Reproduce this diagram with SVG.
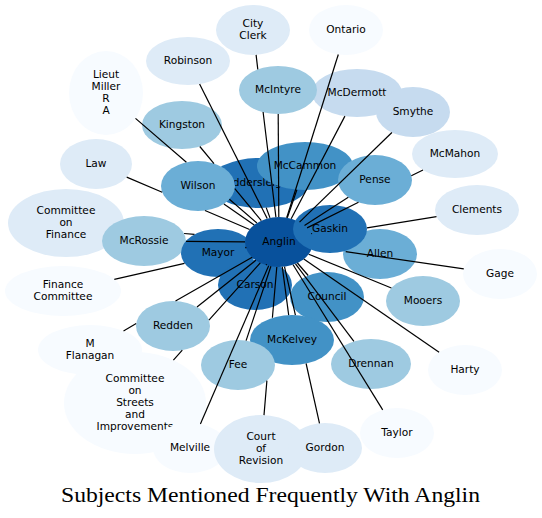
<svg xmlns="http://www.w3.org/2000/svg" width="542" height="518" viewBox="0 0 542 518">
<style>
.n text{font-family:"DejaVu Sans","Noto Sans",sans-serif;font-size:10.6px;text-anchor:middle;fill:#000}
.c1{fill:#f7fbff}.c2{fill:#deebf7}.c3{fill:#c6dbef}.c4{fill:#9ecae1}.c5{fill:#6baed6}.c6{fill:#4292c6}.c7{fill:#2171b5}.c8{fill:#08519c}
.e path{stroke:#000;stroke-width:1.2;fill:none}
.title{font-family:"Liberation Serif","DejaVu Serif",serif;font-size:20px;text-anchor:middle;fill:#000}
</style>
<rect width="542" height="518" fill="#fff"/>
<g class="n">
<g id="n-committee-on-finance"><ellipse class="c2" cx="66" cy="223" rx="58" ry="34"/><text x="66" y="213.8">Committee</text><text x="66" y="226">on</text><text x="66" y="238.2">Finance</text></g>
<g id="n-mcrossie"><ellipse class="c4" cx="144" cy="241" rx="42" ry="25"/><text x="144" y="244">McRossie</text></g>
<g id="n-mayor"><ellipse class="c7" cx="218" cy="253" rx="37" ry="24"/><text x="218" y="256">Mayor</text></g>
<g id="n-carson"><ellipse class="c7" cx="255" cy="285" rx="37" ry="25"/><text x="255" y="288">Carson</text></g>
<g id="n-anglin"><ellipse class="c8" cx="279" cy="242" rx="34" ry="25"/><text x="279" y="245">Anglin</text></g>
<g id="n-allen"><ellipse class="c5" cx="380" cy="254" rx="37" ry="25"/><text x="380" y="257">Allen</text></g>
<g id="n-gaskin"><ellipse class="c7" cx="330" cy="229" rx="37" ry="24"/><text x="330" y="232">Gaskin</text></g>
<g id="n-iddersleigh"><ellipse class="c7" cx="259" cy="183" rx="50" ry="25"/><text x="259" y="186">Iddersleigh</text></g>
<g id="n-wilson"><ellipse class="c5" cx="198" cy="186" rx="37" ry="25"/><text x="198" y="189">Wilson</text></g>
<g id="n-mccammon"><ellipse class="c6" cx="305" cy="166" rx="48" ry="24"/><text x="305" y="169">McCammon</text></g>
<g id="n-pense"><ellipse class="c5" cx="375" cy="180" rx="37" ry="25"/><text x="375" y="183">Pense</text></g>
<g id="n-mcdermott"><ellipse class="c3" cx="357" cy="93" rx="45" ry="24"/><text x="357" y="96">McDermott</text></g>
<g id="n-mcintyre"><ellipse class="c4" cx="278" cy="90" rx="39" ry="24"/><text x="278" y="93">McIntyre</text></g>
<g id="n-smythe"><ellipse class="c3" cx="413" cy="112" rx="37" ry="25"/><text x="413" y="115">Smythe</text></g>
<g id="n-city-clerk"><ellipse class="c2" cx="253" cy="30" rx="37" ry="25"/><text x="253" y="26.9">City</text><text x="253" y="39.1">Clerk</text></g>
<g id="n-ontario"><ellipse class="c1" cx="346" cy="30" rx="37" ry="25"/><text x="346" y="33">Ontario</text></g>
<g id="n-robinson"><ellipse class="c2" cx="188" cy="61" rx="42" ry="24"/><text x="188" y="64">Robinson</text></g>
<g id="n-lieut-miller-r-a"><ellipse class="c1" cx="106" cy="93" rx="37" ry="42"/><text x="106" y="77.7">Lieut</text><text x="106" y="89.9">Miller</text><text x="106" y="102.1">R</text><text x="106" y="114.3">A</text></g>
<g id="n-kingston"><ellipse class="c4" cx="182" cy="125" rx="40" ry="24"/><text x="182" y="128">Kingston</text></g>
<g id="n-mcmahon"><ellipse class="c2" cx="455" cy="154" rx="43" ry="24"/><text x="455" y="157">McMahon</text></g>
<g id="n-law"><ellipse class="c2" cx="96" cy="164" rx="36" ry="25"/><text x="96" y="167">Law</text></g>
<g id="n-clements"><ellipse class="c2" cx="477" cy="210" rx="42" ry="25"/><text x="477" y="213">Clements</text></g>
<g id="n-gage"><ellipse class="c1" cx="500" cy="274" rx="37" ry="25"/><text x="500" y="277">Gage</text></g>
<g id="n-finance-committee"><ellipse class="c1" cx="63" cy="291" rx="58" ry="25"/><text x="63" y="287.9">Finance</text><text x="63" y="300.1">Committee</text></g>
<g id="n-council"><ellipse class="c6" cx="327" cy="297" rx="37" ry="25"/><text x="327" y="300">Council</text></g>
<g id="n-mooers"><ellipse class="c4" cx="423" cy="301" rx="37" ry="25"/><text x="423" y="304">Mooers</text></g>
<g id="n-redden"><ellipse class="c4" cx="173" cy="326" rx="37" ry="25"/><text x="173" y="329">Redden</text></g>
<g id="n-mckelvey"><ellipse class="c6" cx="292" cy="340" rx="42" ry="25"/><text x="292" y="343">McKelvey</text></g>
<g id="n-fee"><ellipse class="c4" cx="238" cy="365" rx="37" ry="25"/><text x="238" y="368">Fee</text></g>
<g id="n-drennan"><ellipse class="c4" cx="371" cy="364" rx="40" ry="25"/><text x="371" y="367">Drennan</text></g>
<g id="n-harty"><ellipse class="c1" cx="465" cy="370" rx="37" ry="25"/><text x="465" y="373">Harty</text></g>
<g id="n-committee-on-streets"><ellipse class="c1" cx="135" cy="403" rx="71" ry="51"/><text x="135" y="381.6">Committee</text><text x="135" y="393.8">on</text><text x="135" y="406">Streets</text><text x="135" y="418.2">and</text><text x="135" y="430.4">Improvements</text></g>
<g id="n-m-flanagan"><ellipse class="c1" cx="90" cy="350" rx="52" ry="25"/><text x="90" y="346.9">M</text><text x="90" y="359.1">Flanagan</text></g>
<g id="n-melville"><ellipse class="c1" cx="190" cy="448" rx="37" ry="25"/><text x="190" y="451">Melville</text></g>
<g id="n-taylor"><ellipse class="c1" cx="397" cy="433" rx="37" ry="25"/><text x="397" y="436">Taylor</text></g>
<g id="n-court-of-revision"><ellipse class="c2" cx="261" cy="449" rx="47" ry="34"/><text x="261" y="439.8">Court</text><text x="261" y="452">of</text><text x="261" y="464.2">Revision</text></g>
<g id="n-gordon"><ellipse class="c2" cx="325" cy="448" rx="37" ry="25"/><text x="325" y="451">Gordon</text></g>
</g>
<g id="connectors" class="e">
<path d="M256.1,54.9L257.8,69.4M263.1,112L275.9,217.1"/>
<path d="M338.3,54.5L286.7,217.7"/>
<path d="M199.6,84.1L267.2,218.6"/>
<path d="M135.5,118.4L186.4,162.3M229.4,199.2L256.9,223"/>
<path d="M278.2,114L278.8,217"/>
<path d="M344.9,116.1L291.2,218.7"/>
<path d="M391.9,132.5L299.5,222.1"/>
<path d="M199.8,146.5L214,163.6M234.8,188.6L261.3,220.7"/>
<path d="M423,170L411.3,175.8M358.5,202.3L307.1,227.9"/>
<path d="M126.7,177.1L162.2,192.2M205,210.5L249.6,229.5"/>
<path d="M223.9,203.9L254.2,224.9"/>
<path d="M266.2,207.6L270,217.9"/>
<path d="M296.9,189.7L287.3,217.8"/>
<path d="M348.3,197.3L304.5,225.5"/>
<path d="M436.5,216.6L367,227.8"/>
<path d="M184.1,233.5L194.5,234.4"/>
<path d="M186,241.3L245,241.8"/>
<path d="M245.3,247.4L246.3,247.9"/>
<path d="M311.1,233.8L312.1,233.5"/>
<path d="M345.7,251.7L463.8,268.8"/>
<path d="M114.3,279.4L184.5,263.4"/>
<path d="M266.1,265.1L266.6,264.3"/>
<path d="M308.2,275.5L297.4,263"/>
<path d="M391.4,288L308.7,254.2"/>
<path d="M197,307L255.9,260.3"/>
<path d="M288.7,315.1L282.3,266.9"/>
<path d="M123.5,330.9L136.2,323.6M175.5,301.1L252.2,257.3"/>
<path d="M246.1,340.6L270.9,266.3"/>
<path d="M353.9,341.4L295.5,263.9"/>
<path d="M439.1,352.2L303.8,259.1"/>
<path d="M173.4,360.1L182.3,350.1M208.9,320.2L260.3,262.9"/>
<path d="M382.7,409.9L293.1,264.8"/>
<path d="M200.4,424L268.7,265.8"/>
<path d="M264,415.1L266.9,380.6M272.4,317.8L276.8,267"/>
<path d="M319.5,423.3L306.1,363.5M295.4,315.1L284.5,266.7"/>
</g>
<text class="title" x="270.5" y="502" textLength="419" lengthAdjust="spacingAndGlyphs">Subjects Mentioned Frequently With Anglin</text>
</svg>
